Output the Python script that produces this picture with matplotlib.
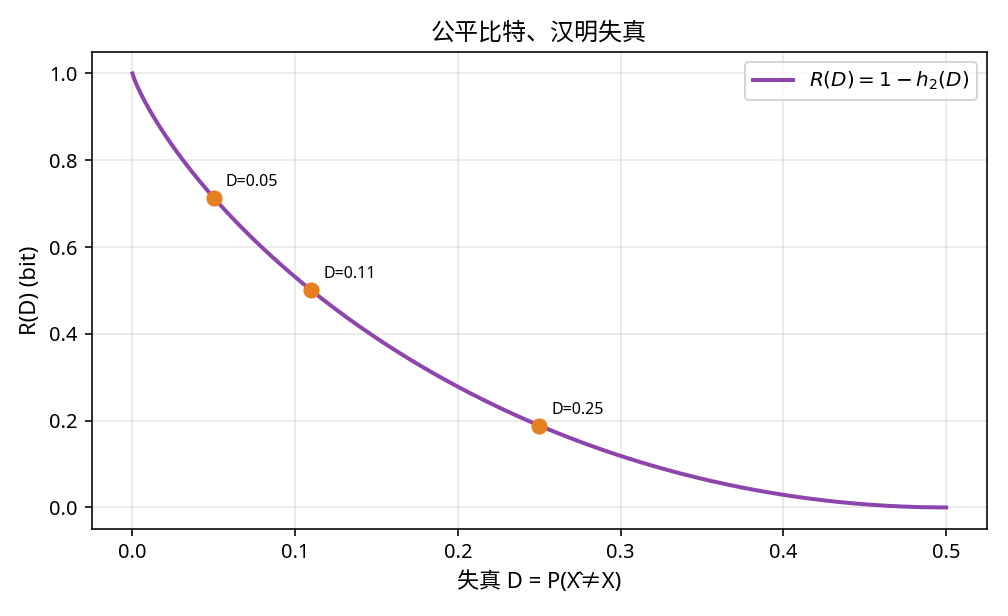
import numpy as np
import matplotlib
matplotlib.use("Agg")
import matplotlib.pyplot as plt

plt.rcParams['font.family'] = ['Noto Sans', 'Noto Sans CJK SC', 'DejaVu Sans']
plt.rcParams['axes.unicode_minus'] = False

d_min, d_max, n_pts = 0.0, 0.5, 400
marked_D = [0.05, 0.11, 0.25]
marked_labels = ["D=0.05", "D=0.11", "D=0.25"]
title = "公平比特、汉明失真"
xlabel = "失真 D = P(X\u0302≠X)"
ylabel = "R(D) (bit)"
legend_label = r"$R(D) = 1 - h_2(D)$"


def h2(p):
    p = np.asarray(p, dtype=float)
    with np.errstate(divide="ignore", invalid="ignore"):
        out = -p * np.log2(p) - (1 - p) * np.log2(1 - p)
    return np.nan_to_num(out, nan=0.0)


D = np.linspace(d_min, d_max, n_pts)
R = 1 - h2(D)
mR = 1 - h2(np.array(marked_D))

fig, ax = plt.subplots(figsize=(7.0, 616 / 144), dpi=144)
fig.subplots_adjust(left=0.091, right=0.979, top=0.916, bottom=0.141)

ax.plot(D, R, color="#8e44ad", lw=2, label=legend_label)
ax.scatter(marked_D, mR, color="#e67e22", s=50, zorder=5)
for x, y, lab in zip(marked_D, mR, marked_labels):
    ax.annotate(lab, (x, y), xytext=(6, 6), textcoords="offset points", fontsize=8)

ax.set_title(title, fontsize=12)
ax.set_xlabel(xlabel, fontsize=11)
ax.set_ylabel(ylabel, fontsize=11)
ax.tick_params(labelsize=10)
ax.grid(True, alpha=0.3)
ax.legend(loc="upper right", fontsize=10)

fig.savefig("out.png", dpi=144)
